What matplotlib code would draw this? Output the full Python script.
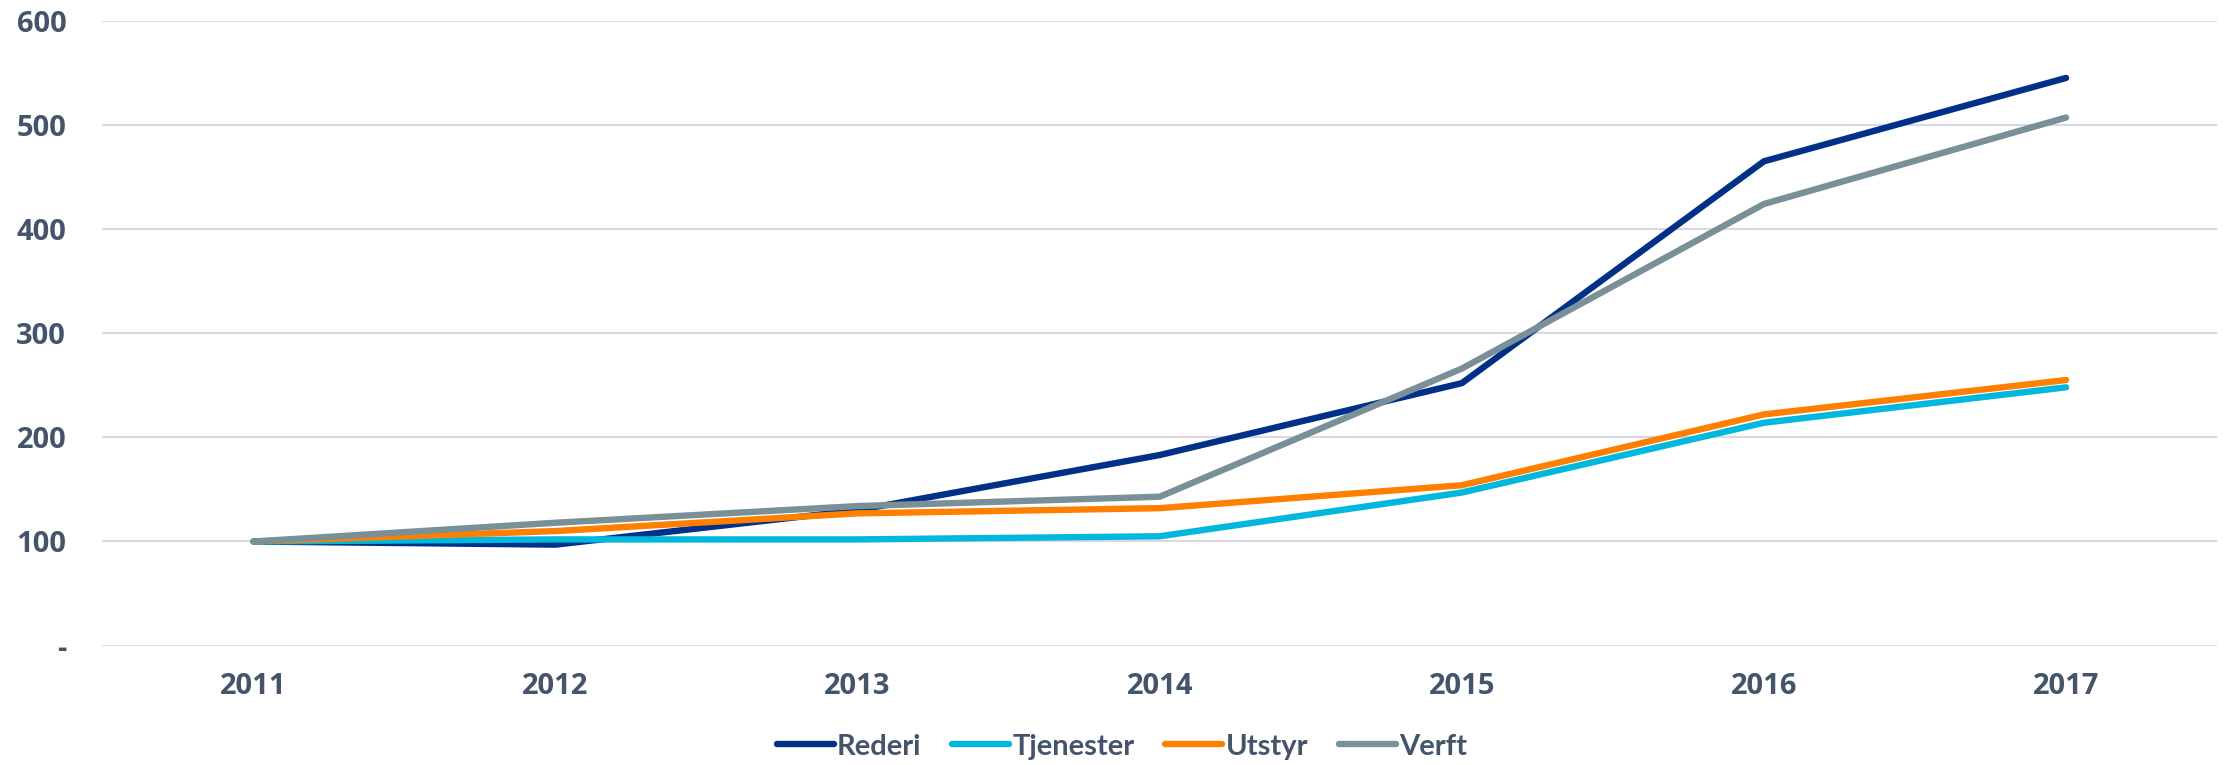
import matplotlib.pyplot as plt

years = ["2011", "2012", "2013", "2014", "2015", "2016", "2017"]
rederi = [100, 97, 130, 183, 252, 465, 545]
tjenester = [100, 102, 102, 105, 147, 214, 248]
utstyr = [100, 110, 127, 132, 154, 222, 255]
verft = [100, 118, 134, 143, 266, 424, 507]

series = [("Rederi", rederi, "#003087"),
          ("Tjenester", tjenester, "#00B8DE"),
          ("Utstyr", utstyr, "#FF7F00"),
          ("Verft", verft, "#7A9099")]

text_color = "#44546A"
grid_color = "#D9D9E3"

fig = plt.figure(figsize=(22.26, 7.65), dpi=100)
ax = fig.add_axes([0.046, 0.156, 0.95, 0.817])

x = range(len(years))
for name, vals, col in series:
    ax.plot(x, vals, color=col, lw=4.6, label=name, solid_capstyle="round")

ax.set_xlim(-0.5, len(years) - 0.5)
ax.set_ylim(0, 600)
ax.set_yticks([0, 100, 200, 300, 400, 500, 600])
ax.set_yticklabels(["-", "100", "200", "300", "400", "500", "600"])
ax.set_xticks(list(x))
ax.set_xticklabels(years)

for s in ax.spines.values():
    s.set_visible(False)
ax.grid(axis="y", color=grid_color, lw=1.5)
ax.set_axisbelow(True)
ax.tick_params(length=0, colors=text_color, labelsize=21)
ax.tick_params(axis="y", pad=26)
ax.tick_params(axis="x", pad=19)
for lab in ax.get_xticklabels() + ax.get_yticklabels():
    lab.set_fontweight("bold")
    lab.set_family(["Open Sans", "DejaVu Sans"])

leg = fig.legend(loc="center", bbox_to_anchor=(0.504, 0.024), ncol=4, frameon=False,
                 handlelength=1.95, handletextpad=0.12, columnspacing=1.05,
                 prop={"family": ["Lato", "DejaVu Sans"], "size": 21, "weight": "bold"})
for t in leg.get_texts():
    t.set_color(text_color)

fig.savefig("out.png", dpi=100)
